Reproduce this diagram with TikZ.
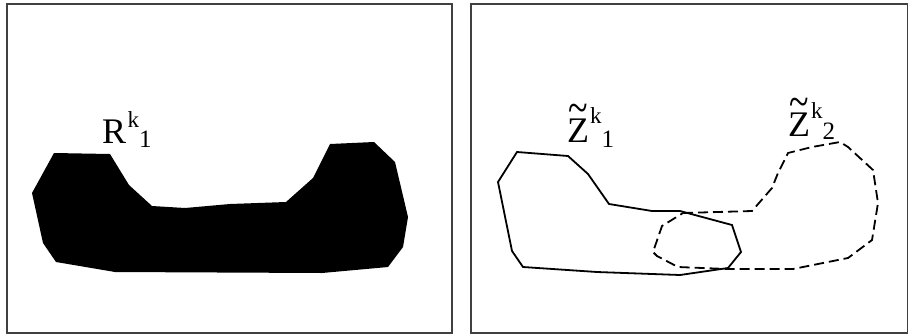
\documentclass[tikz,border=0pt]{standalone}
\usepackage{fontspec}
\setmainfont{Liberation Serif}
\usepackage{graphicx}
\newcommand{\bigfs}{\fontsize{36}{36}\selectfont}
\newcommand{\supfs}{\fontsize{23}{23}\selectfont}
\newcommand{\subfs}{\fontsize{25}{25}\selectfont}
\newcommand{\tildeZ}{\rlap{\raisebox{18.5pt}{\hspace{1pt}\scalebox{1}[1.3]{\textasciitilde}}}Z}
\begin{document}
\begin{tikzpicture}[x=1pt,y=-1pt,
  frame/.style={draw=black!75, line width=1.7pt},
  outline/.style={draw=black, line width=1.8pt, line join=miter},
  dashline/.style={draw=black, line width=1.8pt, dash pattern=on 10pt off 5pt},
  lab/.style={anchor=base west, inner sep=0pt, font=\bigfs}]
\useasboundingbox (0,0) rectangle (909,335);
\draw[frame] (7,4) rectangle (452,333);
\draw[frame] (471,4) rectangle (907.5,333);
% filled region
\fill[black] (54,153) -- (110,154) -- (129,185) -- (152,206) -- (185,208) -- (230,204)
  -- (286,202) -- (313,178) -- (330,144) -- (374,142) -- (395,162) -- (408,217)
  -- (403,247) -- (388,267) -- (322,273) -- (115,272) -- (56,262) -- (43,243)
  -- (32,193) -- cycle;
\node[lab] (r1) at (102,143) {R\hspace{1.5pt}\raisebox{16pt}{\supfs k}\raisebox{-4pt}{\subfs 1}};
% solid Z1
\draw[outline] (517,152) -- (568,156) -- (588,174) -- (609,204) -- (652,211) -- (680,211)
  -- (732,225) -- (741,252) -- (728,268) -- (680,275) -- (597,272) -- (523,267)
  -- (512,251) -- (498,182) -- cycle;
% dashed Z2
\draw[dashline] (683,213) -- (752,211) -- (772,188) -- (778,173) -- (788,153) -- (812,147)
  -- (840,142) -- (848,147) -- (873,170) -- (878,203) -- (872,240) -- (848,258)
  -- (793,269) -- (727,269) -- (678,267) -- (657,256) -- (653,252) -- (662,226) -- cycle;
\node[lab] (z1) at (567,142) {\tildeZ\hspace{1pt}\raisebox{19pt}{\supfs k}\raisebox{-5pt}{\subfs 1}};
\node[lab] (z2) at (788,136) {\tildeZ\hspace{1pt}\raisebox{18pt}{\supfs k}\raisebox{-3pt}{\subfs 2}};
\end{tikzpicture}
\end{document}
